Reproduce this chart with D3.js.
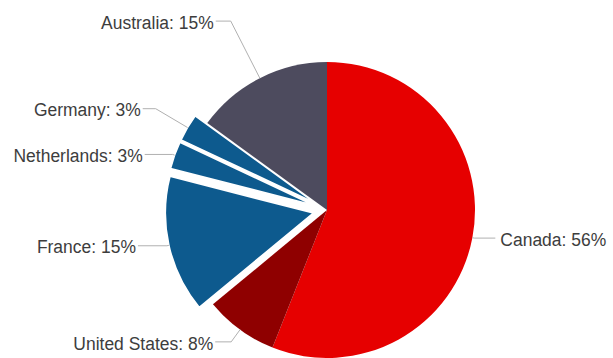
<!DOCTYPE html>
<html>
<head>
<meta charset="utf-8">
<script src="https://cdn.jsdelivr.net/npm/d3@7"></script>
<style>
  html, body { margin: 0; padding: 0; background: #fff; }
  svg { display: block; }
  .lbl { font-family: "Liberation Sans", Arial, sans-serif; fill: #3d3d3d; }
</style>
</head>
<body>
<svg id="chart" width="613" height="358"></svg>
<script>
// Share by country, clockwise from 12 o'clock
const countries = ["Canada", "United States", "France", "Netherlands", "Germany", "Australia"];
const shares = [56, 8, 15, 3, 3, 15];
const exploded = ["France", "Netherlands", "Germany"];
const colors = ["#e60000", "#8f0000", "#0d5a8e", "#0d5a8e", "#0d5a8e", "#4d4b5e"];

// Leader-line layout: radius of the elbow and length of the horizontal tail
const elbowRadius = [150, 163, 150, 150, 185, 212];
const tailLength = [21, 16, 29, 28, 13, 15];

const W = 613, H = 358;
const cx = 327, cy = 210, R = 148, pull = 14;
const fontSize = 19, squeeze = 0.92; // condensed label lettering

const svg = d3.select("#chart");
const g = svg.append("g").attr("transform", `translate(${cx},${cy})`);

const data = countries.map((c, i) => ({ country: c, share: shares[i], color: colors[i], elbow: elbowRadius[i], tail: tailLength[i] }));

const pie = d3.pie().sort(null).value(d => d.share).startAngle(0).endAngle(2 * Math.PI);
const arc = d3.arc().innerRadius(0).outerRadius(R);
const arcs = pie(data);

function shift(a) {
  const isOut = exploded.includes(a.data.country);
  const mid = (a.startAngle + a.endAngle) / 2;
  const d = isOut ? pull : 0;
  return [Math.sin(mid) * d, -Math.cos(mid) * d];
}

arcs.forEach(a => {
  const [dx, dy] = shift(a);
  const isOut = exploded.includes(a.data.country);
  g.append("path")
    .attr("d", arc(a))
    .attr("transform", `translate(${dx},${dy})`)
    .attr("fill", a.data.color)
    .attr("stroke", isOut ? "#fff" : "none")
    .attr("stroke-width", isOut ? 1.6 : 0)
    .attr("stroke-linejoin", "round");
});

// Leader lines and labels
arcs.forEach(a => {
  const [dx, dy] = shift(a);
  const mid = (a.startAngle + a.endAngle) / 2;
  const ux = Math.sin(mid), uy = -Math.cos(mid);
  const p0 = [dx + ux * R, dy + uy * R];
  const p1 = [dx + ux * a.data.elbow, dy + uy * a.data.elbow];
  const right = ux > 0;
  const p2 = [p1[0] + (right ? a.data.tail : -a.data.tail), p1[1]];
  g.append("polyline")
    .attr("points", [p0, p1, p2].map(p => p.join(",")).join(" "))
    .attr("fill", "none")
    .attr("stroke", "#b0b0b0")
    .attr("stroke-width", 1);
  const tx = p2[0] + (right ? 5 : -2), ty = p2[1] + 1;
  g.append("text")
    .attr("class", "lbl")
    .attr("transform", `translate(${tx},${ty}) scale(${squeeze},1)`)
    .attr("dy", "0.35em")
    .attr("text-anchor", right ? "start" : "end")
    .style("font-size", fontSize + "px")
    .text(`${a.data.country}: ${a.data.share}%`);
});
</script>
</body>
</html>
